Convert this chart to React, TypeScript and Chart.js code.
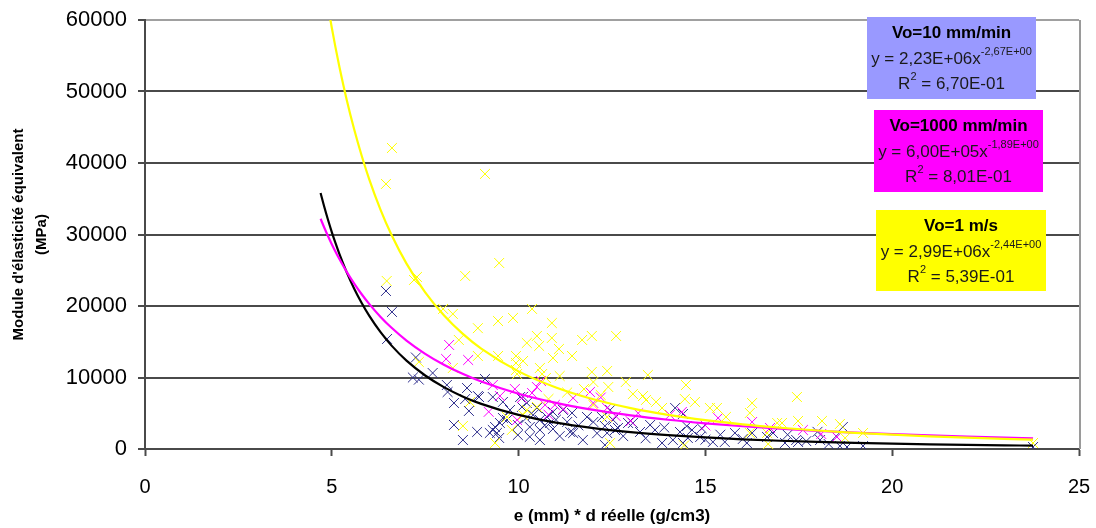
import React, { useEffect, useRef } from "react";
import { Chart, registerables } from "chart.js";

Chart.register(...registerables);

const FONT = "'Liberation Sans', Arial, sans-serif";

// x tick values and y tick values
const xTickValues = [0, 5, 10, 15, 20, 25];
const yTickValues = [0, 10000, 20000, 30000, 40000, 50000, 60000];

// Series labels
const seriesNames = ["Vo=10 mm/min", "Vo=1000 mm/min", "Vo=1 m/s"];

// Vo=10 mm/min measurements (x, y)
const navyX = [6.45, 6.61, 6.48, 7.25, 7.17, 7.33, 7.70, 8.08, 8.10, 8.62, 9.10, 8.94, 9.31, 8.27, 8.67, 10.04, 8.27, 8.89, 8.51, 9.31, 9.42, 9.50, 9.58, 9.98, 9.77, 10.30, 10.22, 8.91, 8.57, 9.58, 10.12, 9.37, 9.23, 9.48, 9.69, 9.98, 10.09, 10.49, 10.39, 10.57, 10.76, 10.92, 10.57, 10.57, 10.92, 11.19, 11.43, 11.46, 11.72, 11.83, 12.00, 12.23, 12.45, 12.53, 12.31, 12.58, 11.30, 10.84, 14.19, 13.06, 13.52, 13.84, 14.13, 14.64, 14.86, 15.20, 15.52, 15.79, 16.25, 16.11, 16.65, 12.37, 12.66, 13.25, 13.65, 14.32, 14.53, 18.68, 16.81, 17.13, 17.43, 18.07, 18.60, 19.22, 17.70, 18.30, 12.31, 14.40, 17.48, 18.79, 11.38, 12.93, 23.77, 10.20, 10.70, 11.00, 11.60, 12.10, 11.10, 10.30, 13.40, 14.90, 15.40, 16.00, 12.80, 13.90, 15.00, 17.20, 18.00, 18.50, 14.40, 14.50];
const navyY = [22100, 19170, 15390, 12800, 10000, 9700, 10630, 8950, 7970, 8530, 9790, 7270, 7270, 6430, 5320, 7270, 3360, 2380, 1260, 2660, 2240, 3640, 4340, 1960, 5460, 3080, 6430, 7410, 6990, 6580, 7300, 3080, 2240, 1540, 4060, 3360, 5880, 5740, 4760, 4060, 4480, 5180, 2660, 1260, 2800, 5460, 5040, 2240, 1260, 4480, 3780, 4480, 5460, 4060, 3220, 2660, 3780, 3640, 5740, 3640, 3360, 840, 1260, 2660, 1680, 980, 980, 2240, 2240, 840, 1680, 2240, 2940, 2380, 2660, 2380, 1540, 3080, 2240, 840, 1260, 1260, 420, 420, 1100, 700, 560, 840, 980, 280, 2380, 3640, 280, 4300, 3300, 4100, 3300, 2200, 1800, 1700, 1500, 2900, 2000, 1400, 1800, 3000, 1300, 2000, 2400, 1800, 4900, 3200];

// Vo=1000 mm/min measurements
const magentaX = [8.14, 8.06, 8.65, 9.31, 9.90, 9.50, 10.49, 10.36, 10.09, 10.71, 10.97, 11.46, 11.91, 12.00, 9.96, 12.37, 14.05, 14.37, 15.34, 16.25, 17.61, 18.52, 16.73, 10.80, 11.20, 12.60, 13.20, 13.00, 15.00, 9.20, 18.10, 12.20, 10.60];
const magentaY = [14550, 12590, 12450, 8950, 8390, 7410, 8670, 7830, 7130, 6160, 6160, 7130, 7970, 6430, 4060, 5740, 4760, 5180, 4340, 3780, 2660, 1680, 2940, 4800, 5600, 4600, 5000, 3900, 3300, 5200, 2100, 7200, 9500];

// Vo=1 m/s measurements
const yellowX = [6.61, 6.45, 9.10, 9.48, 8.57, 6.47, 7.20, 7.28, 7.98, 8.24, 9.45, 9.85, 10.36, 8.91, 8.40, 10.22, 8.91, 9.45, 9.93, 10.12, 7.33, 8.24, 9.93, 8.70, 8.51, 9.37, 9.82, 9.69, 10.89, 10.49, 10.55, 10.89, 11.70, 11.96, 12.61, 11.08, 10.92, 11.43, 9.93, 9.96, 10.57, 10.63, 11.10, 10.73, 11.96, 12.37, 12.00, 12.40, 11.75, 12.20, 12.00, 12.37, 10.12, 10.22, 10.49, 12.45, 13.46, 12.87, 13.06, 13.33, 14.48, 14.45, 14.72, 13.68, 13.41, 13.84, 15.12, 15.31, 16.25, 16.19, 15.55, 16.19, 16.68, 16.92, 17.45, 17.05, 17.48, 18.12, 18.60, 19.22, 16.65, 18.74, 23.77, 14.43, 11.30, 10.80];
const yellowY = [42100, 37070, 38470, 26020, 24200, 23500, 23640, 24060, 19590, 18890, 17900, 18330, 19590, 16900, 15250, 14830, 13010, 13010, 13010, 12310, 12170, 11330, 11050, 6580, 3220, 840, 2660, 4480, 17620, 15810, 14410, 15530, 15250, 15810, 15810, 13990, 12730, 13010, 12030, 10490, 11330, 10490, 10210, 9930, 10770, 10910, 9370, 8670, 8390, 7550, 6160, 4480, 4760, 5460, 5880, 840, 10350, 9370, 7690, 7410, 8950, 6990, 6580, 6580, 6860, 5740, 5740, 5740, 6430, 5040, 4480, 2240, 700, 3640, 7270, 3640, 3920, 3920, 3500, 2240, 2240, 1540, 840, 500, 7900, 7000];

// Trendline equations as printed on the chart: y = a * x^b
const trendA = [2.23e6, 6.0e5, 2.99e6];
const trendB = [-2.67, -1.89, -2.44];
const trendAText = ["2,23E+06", "6,00E+05", "2,99E+06"];
const trendBText = ["-2,67E+00", "-1,89E+00", "-2,44E+00"];
const r2Text = ["6,70E-01", "8,01E-01", "5,39E-01"];
// x positions where Excel drew the trendlines
const trendXs = [4.7, 4.8, 4.9, 5.0, 5.1, 5.2, 5.4, 5.6, 5.8, 6.0, 6.3, 6.6, 7.0, 7.5, 8.0, 8.5, 9, 10, 11, 12, 13, 14, 15, 16, 17, 18, 19, 20, 21, 22, 23, 23.77];

const zip = (xs: number[], ys: number[]) => xs.map((x, i) => ({ x, y: ys[i] }));
const trend = (i: number) => trendXs.map((x) => ({ x, y: trendA[i] * Math.pow(x, trendB[i]) }));

const boxStyles = [
  { fill: "#9999FF", x0: 867, x1: 1036, y0: 17, y1: 99 },
  { fill: "#FF00FF", x0: 874, x1: 1043, y0: 110, y1: 192 },
  { fill: "#FFFF00", x0: 876, x1: 1046, y0: 210, y1: 291 },
];

const boxesPlugin = {
  id: "eqBoxes",
  afterDraw(chart: any) {
    const ctx = chart.ctx;
    const { right, top, bottom } = chart.chartArea;
    ctx.save();
    // right plot border
    ctx.strokeStyle = "#9a9a9a";
    ctx.lineWidth = 2;
    ctx.beginPath();
    ctx.moveTo(Math.round(right) + 1, top);
    ctx.lineTo(Math.round(right) + 1, bottom);
    ctx.stroke();

    boxStyles.forEach((b, i) => {
      ctx.fillStyle = b.fill;
      ctx.fillRect(b.x0, b.y0, b.x1 - b.x0, b.y1 - b.y0);
      const cx = (b.x0 + b.x1) / 2;
      ctx.textBaseline = "middle";
      // title
      ctx.fillStyle = "#000";
      ctx.textAlign = "center";
      ctx.font = `bold 17px ${FONT}`;
      ctx.fillText(seriesNames[i], cx, b.y0 + 16);
      // equation
      ctx.textAlign = "left";
      ctx.fillStyle = "#1a1a1a";
      const main = `y = ${trendAText[i]}x`;
      ctx.font = `17px ${FONT}`;
      const w1 = ctx.measureText(main).width;
      ctx.font = `11px ${FONT}`;
      const w2 = ctx.measureText(trendBText[i]).width;
      let sx = cx - (w1 + w2) / 2;
      ctx.font = `17px ${FONT}`;
      ctx.fillText(main, sx, b.y0 + 42);
      ctx.font = `11px ${FONT}`;
      ctx.fillText(trendBText[i], sx + w1, b.y0 + 35);
      // R2
      ctx.font = `17px ${FONT}`;
      const rw = ctx.measureText("R").width;
      const rest = ` = ${r2Text[i]}`;
      const rrw = ctx.measureText(rest).width;
      ctx.font = `11px ${FONT}`;
      const tw = ctx.measureText("2").width;
      sx = cx - (rw + tw + rrw) / 2;
      ctx.font = `17px ${FONT}`;
      ctx.fillText("R", sx, b.y0 + 67);
      ctx.font = `11px ${FONT}`;
      ctx.fillText("2", sx + rw, b.y0 + 60);
      ctx.font = `17px ${FONT}`;
      ctx.fillText(rest, sx + rw + tw, b.y0 + 67);
    });
    ctx.restore();
  },
};

export default function App() {
  const canvasRef = useRef<HTMLCanvasElement | null>(null);

  useEffect(() => {
    if (!canvasRef.current) return;
    const markerCommon = {
      showLine: false,
      pointStyle: "crossRot" as const,
      pointRadius: 7,
      pointBorderWidth: 1,
    };
    const lineCommon = {
      showLine: true,
      pointRadius: 0,
      borderWidth: 2.2,
      cubicInterpolationMode: "monotone" as const,
      fill: false,
    };
    const chart = new Chart(canvasRef.current, {
      type: "scatter",
      data: {
        datasets: [
          { label: seriesNames[2] + " trend", data: trend(2), borderColor: "#FFFF00", ...lineCommon },
          { label: seriesNames[1] + " trend", data: trend(1), borderColor: "#FF00FF", ...lineCommon },
          { label: seriesNames[0] + " trend", data: trend(0), borderColor: "#000000", ...lineCommon },
          { label: seriesNames[2], data: zip(yellowX, yellowY), borderColor: "#FFFF00", backgroundColor: "#FFFF00", ...markerCommon },
          { label: seriesNames[1], data: zip(magentaX, magentaY), borderColor: "#FF00FF", backgroundColor: "#FF00FF", ...markerCommon },
          { label: seriesNames[0], data: zip(navyX, navyY), borderColor: "#2e2e8c", backgroundColor: "#2e2e8c", ...markerCommon },
        ],
      },
      options: {
        animation: false,
        responsive: false,
        devicePixelRatio: 1,
        layout: { padding: { top: 20, right: 17, left: 0, bottom: 0 } },
        plugins: { legend: { display: false }, tooltip: { enabled: false } },
        scales: {
          x: {
            type: "linear",
            min: xTickValues[0],
            max: xTickValues[xTickValues.length - 1],
            afterBuildTicks: (s: any) => { s.ticks = xTickValues.map((v) => ({ value: v })); },
            ticks: { font: { size: 20, family: FONT }, color: "#000", padding: 19, callback: (v: any) => String(v) },
            grid: { drawOnChartArea: false, drawTicks: true, tickLength: 7, tickColor: "#4a4a4a", tickWidth: 2 },
            border: { color: "#4a4a4a", width: 2 },
            title: {
              display: true,
              text: "e (mm) * d réelle (g/cm3)",
              font: { size: 17, weight: "bold", family: FONT },
              color: "#000",
              padding: { top: 0, bottom: 1 },
            },
            afterFit: (s: any) => { s.height = 79; s.paddingLeft = 0; s.paddingRight = 0; },
          },
          y: {
            type: "linear",
            min: yTickValues[0],
            max: yTickValues[yTickValues.length - 1],
            afterBuildTicks: (s: any) => { s.ticks = yTickValues.map((v) => ({ value: v })); },
            ticks: { font: { size: 22, family: FONT }, color: "#000", padding: 11, callback: (v: any) => String(v) },
            grid: {
              color: (c: any) => (c.tick && c.tick.value === 60000 ? "#a0a0a0" : "#4a4a4a"),
              tickColor: "#4a4a4a",
              tickLength: 7,
              lineWidth: 2,
              tickWidth: 2,
            },
            border: { color: "#4a4a4a", width: 2 },
            title: {
              display: true,
              text: ["Module d'élasticité équivalent", "(MPa)"],
              font: { size: 15, weight: "bold", family: FONT, lineHeight: 1.53 },
              color: "#000",
              padding: { top: 7.5, bottom: 0 },
            },
            afterFit: (s: any) => { s.width = 145; s.paddingTop = 0; s.paddingBottom = 0; },
          },
        },
      },
      plugins: [boxesPlugin],
    });
    return () => chart.destroy();
  }, []);

  return (
    <div style={{ position: "absolute", left: 0, top: 0, width: 1096, height: 528, background: "#fff" }}>
      <canvas ref={canvasRef} width={1096} height={528} />
    </div>
  );
}
